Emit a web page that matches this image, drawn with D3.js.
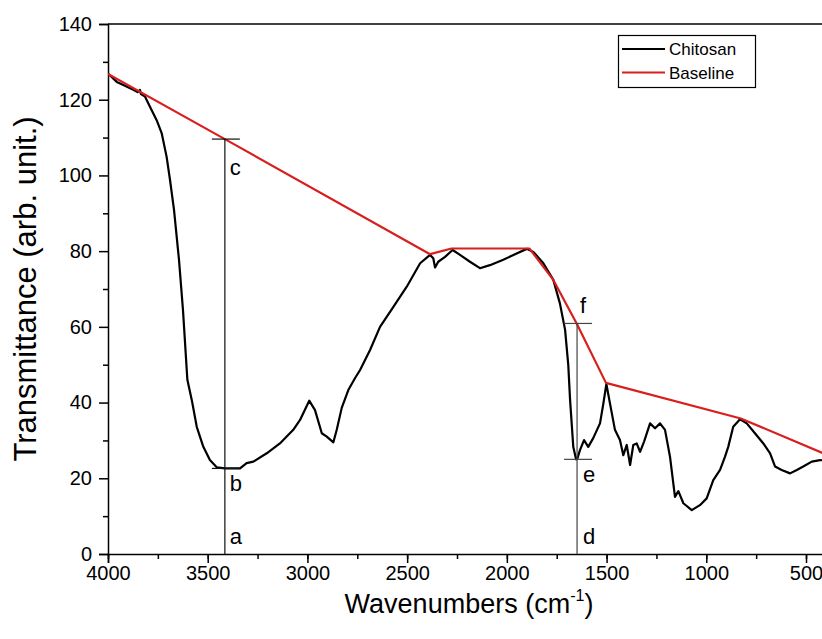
<!DOCTYPE html>
<html><head><meta charset="utf-8">
<script src="https://cdn.jsdelivr.net/npm/d3@7"></script>
<style>body{margin:0;background:#fff} svg{display:block} text{font-family:"Liberation Sans",Arial,sans-serif;fill:#000}</style>
</head><body><svg id="chart" width="822" height="639"></svg>
<script>
// ---- data ----
const wavenumbers = [3998,3956,3923,3873,3850,3840,3835,3814,3789,3756,3731,3706,3689,3669,3644,3624,3602,3580,3555,3522,3489,3455,3413,3338,3305,3271,3204,3138,3071,3037,2991,2962,2928,2903,2870,2853,2828,2795,2761,2736,2686,2636,2569,2502,2435,2385,2369,2360,2344,2310,2272,2235,2185,2135,2085,2018,1951,1900,1867,1817,1767,1734,1708,1692,1683,1667,1653,1647,1633,1613,1592,1567,1533,1516,1501,1483,1458,1433,1416,1399,1382,1366,1349,1332,1312,1282,1257,1232,1207,1182,1157,1140,1115,1073,1032,998,965,931,906,890,865,831,797,756,714,680,655,622,580,546,514,471,430,400];
const chitosan = [126.8,124.7,123.9,122.6,122.0,122.6,121.5,120.8,118.1,114.6,111.2,104.9,98.8,90.9,77.7,64.4,46.0,40.7,33.6,28.3,24.8,22.9,22.6,22.6,24.0,24.4,26.6,29.2,32.8,35.4,40.5,38.0,31.9,31.0,29.5,32.8,38.6,43.3,46.5,48.6,53.9,60.0,65.3,70.6,76.8,79.0,78.1,75.7,77.2,78.5,80.3,79.0,77.2,75.5,76.3,77.7,79.4,80.6,79.8,76.8,72.4,66.2,59.2,49.9,40.7,28.3,25.0,25.1,27.5,30.1,28.3,30.6,34.5,39.8,44.9,39.8,32.8,30.1,26.1,28.8,23.5,28.8,29.2,27.0,29.7,34.5,33.2,34.5,32.8,25.7,15.1,16.6,13.4,11.6,12.9,14.7,19.5,22.2,25.7,28.3,33.6,35.6,34.5,31.9,29.2,26.6,23.1,22.2,21.3,22.2,23.1,24.4,24.8,24.7];
const baselineWn = [4000,3414,2385,2277,1887,1767,1650,1503,827,400];
const baselineT  = [126.8,109.6,79.2,80.7,80.7,72.4,60.9,45.2,35.8,26.3];
const markerWn    = [3414, 1648];
const markerLow   = [22.6, 25.0];
const markerHigh  = [109.6, 60.9];
const markerNames = [["a","b","c"],["d","e","f"]];
const xTicks = [4000,3500,3000,2500,2000,1500,1000,500];
const yTicks = [0,20,40,60,80,100,120,140];
const seriesNames = ["Chitosan","Baseline"];
const seriesColors = ["#000000","#d91e1e"];

// ---- layout ----
const svg = d3.select("#chart");
const L = 108, B = 554, T = 24, R = 822;
const x = d3.scaleLinear().domain([4000,400]).range([L, L + 3600*0.19943]);
const y = d3.scaleLinear().domain([0,140]).range([B, T]);

svg.append("defs").append("clipPath").attr("id","clip")
  .append("rect").attr("x",L).attr("y",T).attr("width",R-L).attr("height",B-T);

// top frame
svg.append("line").attr("x1",L).attr("x2",R+5).attr("y1",y(140)).attr("y2",y(140))
  .attr("stroke","#000").attr("stroke-width",1.5);

// axes
const xMinor = d3.range(4000, 399, -250);
const xAxis = svg.append("g").attr("transform",`translate(0,${B})`);
xAxis.call(d3.axisBottom(x).tickValues(xMinor).tickSize(5).tickFormat(""));
xAxis.call(g=>g.select(".domain").remove());
const xAxisM = svg.append("g").attr("transform",`translate(0,${B})`);
xAxisM.call(d3.axisBottom(x).tickValues(xTicks).tickSize(9).tickPadding(3).tickFormat(d3.format("d")));
xAxisM.select(".domain").attr("stroke-width",1.5);
xAxisM.selectAll("text").attr("font-size",20).attr("font-family","Liberation Sans, Arial, sans-serif");

const yMinor = d3.range(10,140,20);
const yAxis = svg.append("g").attr("transform",`translate(${L},0)`);
yAxis.call(d3.axisLeft(y).tickValues(yMinor).tickSize(5).tickFormat(""));
yAxis.call(g=>g.select(".domain").remove());
const yAxisM = svg.append("g").attr("transform",`translate(${L},0)`);
yAxisM.call(d3.axisLeft(y).tickValues(yTicks).tickSize(9).tickPadding(7));
yAxisM.select(".domain").attr("stroke-width",1.5);
yAxisM.selectAll("text").attr("font-size",20).attr("font-family","Liberation Sans, Arial, sans-serif");
svg.selectAll(".tick line").attr("stroke-width",1.5);

// titles
const xt = svg.append("text").attr("x",469).attr("y",613).attr("text-anchor","middle").attr("font-size",27);
xt.append("tspan").text("Wavenumbers (cm");
xt.append("tspan").text("-1").attr("font-size",16).attr("dy",-12);
xt.append("tspan").text(")").attr("dy",12);
svg.append("text").attr("transform","translate(36,289) rotate(-90)").attr("text-anchor","middle")
  .attr("font-size",31).text("Transmittance (arb. unit.)");

// series
const plot = svg.append("g").attr("clip-path","url(#clip)");
const spec = wavenumbers.map((w,i)=>[w, chitosan[i]]);
const base = baselineWn.map((w,i)=>[w, baselineT[i]]);
const line = d3.line().x(d=>x(d[0])).y(d=>y(d[1])).curve(d3.curveLinear);
plot.append("path").datum(spec).attr("d",line).attr("fill","none")
  .attr("stroke",seriesColors[0]).attr("stroke-width",2.2).attr("stroke-linejoin","round");
plot.append("path").datum(base).attr("d",line).attr("fill","none")
  .attr("stroke",seriesColors[1]).attr("stroke-width",2.2).attr("stroke-linejoin","round");

// markers
const mcol = ["#111","#444"];
markerWn.forEach((w,i)=>{
  const px = x(w);
  svg.append("line").attr("x1",px).attr("x2",px).attr("y1",y(0)).attr("y2",y(markerHigh[i]))
    .attr("stroke",mcol[i]).attr("stroke-width",1.2);
  [markerLow[i], markerHigh[i]].forEach(v=>{
    svg.append("line").attr("x1",px-13).attr("x2",px+15).attr("y1",y(v)).attr("y2",y(v))
      .attr("stroke",mcol[i]).attr("stroke-width",1.2);
  });
  const dx = i===0 ? 5 : 6;
  svg.append("text").attr("x",px+dx).attr("y",y(0)-10).attr("font-size",22).text(markerNames[i][0]);
  svg.append("text").attr("x",px+dx).attr("y",y(markerLow[i])+23).attr("font-size",22).text(markerNames[i][1]);
  if(i===0) svg.append("text").attr("x",px+5).attr("y",y(markerHigh[i])+36).attr("font-size",22).text(markerNames[i][2]);
  else svg.append("text").attr("x",px+3).attr("y",y(markerHigh[i])-10).attr("font-size",22).text(markerNames[i][2]);
});

// legend
const lg = svg.append("g");
lg.append("rect").attr("x",618.5).attr("y",35.5).attr("width",137).attr("height",52)
  .attr("fill","#fff").attr("stroke","#000").attr("stroke-width",1.2);
seriesNames.forEach((n,i)=>{
  const yy = 49 + i*23.5;
  lg.append("line").attr("x1",622).attr("x2",665).attr("y1",yy).attr("y2",yy)
    .attr("stroke",seriesColors[i]).attr("stroke-width",2.2);
  lg.append("text").attr("x",669).attr("y",yy+6).attr("font-size",17).text(n);
});
</script></body></html>
